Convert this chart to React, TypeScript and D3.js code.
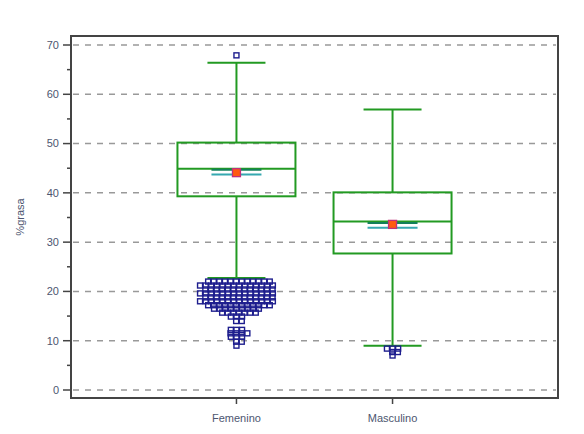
import React from "react";
import * as d3 from "d3";

// categories and box statistics
const categories = ["Femenino", "Masculino"];
const q1 = [39.3, 27.7];
const median = [44.9, 34.2];
const q3 = [50.2, 40.1];
const whiskerLow = [22.7, 9.0];
const whiskerHigh = [66.4, 56.9];
const mean = [44.1, 33.6];
const meanLow = [43.7, 32.9];
const meanHigh = [44.7, 33.9];

// outliers: level values and how many points sit at each level
const femOutlierLevels = [67.9, 22.0, 21.2, 20.4, 19.6, 18.8, 18.0, 17.2, 16.5, 15.7, 14.9, 14.0, 12.2, 11.5, 10.8, 9.8, 9.0];
const femOutlierCounts = [1, 12, 14, 13, 14, 13, 14, 12, 9, 7, 3, 2, 3, 4, 3, 2, 1];
const mascOutlierLevels = [8.4, 7.7, 7.0];
const mascOutlierCounts = [3, 2, 1];

const yTicks = [0, 10, 20, 30, 40, 50, 60, 70];
const yMinorTicks = [5, 15, 25, 35, 45, 55, 65];

const W = 584;
const H = 434;
const frame = { left: 71, right: 558, top: 36, bottom: 398 };

const App = () => {
  const y = d3.scaleLinear().domain([0, 70]).range([390, 45]);
  const x = d3
    .scalePoint<string>()
    .domain(categories)
    .range([frame.left, frame.right])
    .padding(1.06);

  const boxW = 118;
  const capW = 58;
  const meanW = 50;
  const green = "#229a22";
  const navy = "#1e1e8e";
  const font = "'Liberation Sans', Arial, sans-serif";
  const textColor = "#4d5670";

  const outlierSets = [
    { levels: femOutlierLevels, counts: femOutlierCounts },
    { levels: mascOutlierLevels, counts: mascOutlierCounts },
  ];

  // lay each level out as a row of points centred on the category
  const points: { cx: number; cy: number }[] = [];
  outlierSets.forEach((set, ci) => {
    const cx = x(categories[ci]) as number;
    set.levels.forEach((v, li) => {
      const n = set.counts[li];
      const shift = li % 2 ? 2.5 : 0;
      for (let i = 0; i < n; i++) {
        points.push({ cx: cx + shift + (i - (n - 1) / 2) * 5.6, cy: y(v) });
      }
    });
  });

  return (
    <svg
      width={W}
      height={H}
      style={{ position: "absolute", left: 0, top: 0, background: "#fff" }}
    >
      {/* grid */}
      {yTicks.map((t) => (
        <line
          key={"g" + t}
          x1={frame.left + 2}
          x2={frame.right - 2}
          y1={y(t)}
          y2={y(t)}
          stroke="#999"
          strokeWidth={1.5}
          strokeDasharray="6,6"
        />
      ))}

      {/* boxes */}
      {categories.map((c, i) => {
        const cx = x(c) as number;
        return (
          <g key={c} fill="none" stroke={green} strokeWidth={2}>
            <line x1={cx} x2={cx} y1={y(whiskerHigh[i])} y2={y(q3[i])} />
            <line x1={cx} x2={cx} y1={y(q1[i])} y2={y(whiskerLow[i])} />
            <line x1={cx - capW / 2} x2={cx + capW / 2} y1={y(whiskerHigh[i])} y2={y(whiskerHigh[i])} />
            <line x1={cx - capW / 2} x2={cx + capW / 2} y1={y(whiskerLow[i])} y2={y(whiskerLow[i])} />
            <rect x={cx - boxW / 2} y={y(q3[i])} width={boxW} height={y(q1[i]) - y(q3[i])} />
            <line x1={cx - boxW / 2} x2={cx + boxW / 2} y1={y(median[i])} y2={y(median[i])} />
            <line x1={cx - meanW / 2} x2={cx + meanW / 2} y1={y(meanHigh[i])} y2={y(meanHigh[i])} stroke="#13805a" />
            <line x1={cx - meanW / 2} x2={cx + meanW / 2} y1={y(meanLow[i])} y2={y(meanLow[i])} stroke="#35a8b0" />
            <rect x={cx - 4} y={y(mean[i]) - 4} width={8} height={8} fill="#ff5a10" stroke="#c0307a" strokeWidth={1.3} />
          </g>
        );
      })}

      {/* outliers */}
      {points.map((p, i) => (
        <rect
          key={"o" + i}
          x={p.cx - 2.5}
          y={p.cy - 2.5}
          width={5}
          height={5}
          fill="none"
          stroke={navy}
          strokeWidth={1.4}
        />
      ))}

      {/* frame */}
      <rect
        x={frame.left}
        y={frame.top}
        width={frame.right - frame.left}
        height={frame.bottom - frame.top}
        fill="none"
        stroke="#444"
        strokeWidth={2}
      />

      {/* y axis */}
      {yTicks.map((t) => (
        <g key={"t" + t}>
          <line x1={frame.left - 8} x2={frame.left} y1={y(t)} y2={y(t)} stroke="#444" strokeWidth={1.5} />
          <text
            x={frame.left - 12}
            y={y(t)}
            dy="0.35em"
            textAnchor="end"
            fontFamily={font}
            fontSize={11}
            fill={textColor}
          >
            {t}
          </text>
        </g>
      ))}
      {yMinorTicks.map((t) => (
        <line key={"m" + t} x1={frame.left - 4} x2={frame.left} y1={y(t)} y2={y(t)} stroke="#444" strokeWidth={1.5} />
      ))}
      <text
        transform={`translate(24,${(frame.top + frame.bottom) / 2}) rotate(-90)`}
        textAnchor="middle"
        fontFamily={font}
        fontSize={11}
        fill={textColor}
      >
        %grasa
      </text>

      {/* x axis */}
      {categories.map((c) => (
        <g key={"x" + c}>
          <line x1={x(c)} x2={x(c)} y1={frame.bottom} y2={frame.bottom + 6} stroke="#444" strokeWidth={1.5} />
          <text
            x={x(c)}
            y={frame.bottom + 24}
            textAnchor="middle"
            fontFamily={font}
            fontSize={11}
            fill={textColor}
          >
            {c}
          </text>
        </g>
      ))}
    </svg>
  );
};

export default App;
